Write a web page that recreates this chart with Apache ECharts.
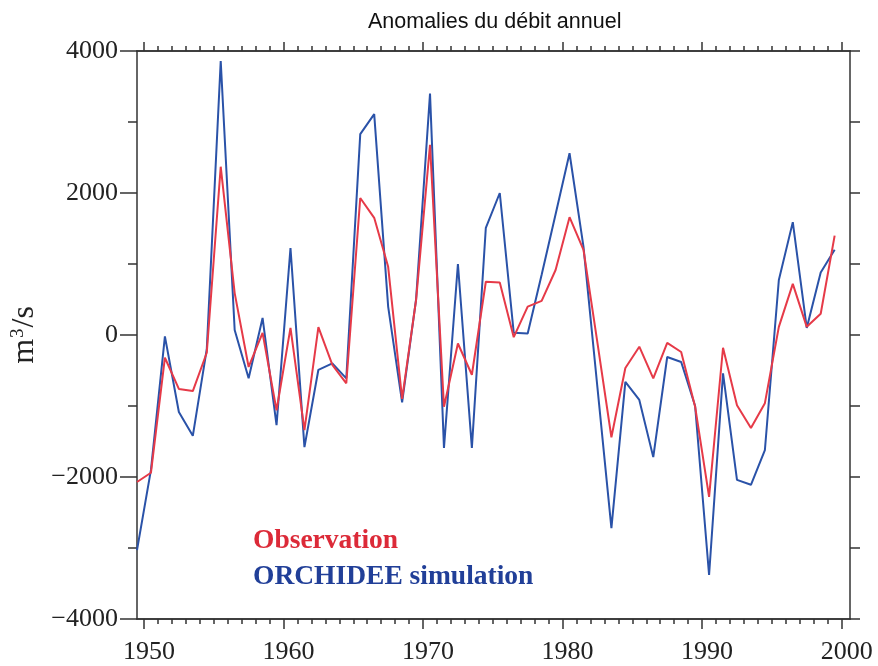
<!DOCTYPE html>
<html>
<head>
<meta charset="utf-8">
<script src="https://cdn.jsdelivr.net/npm/echarts@6/dist/echarts.min.js"></script>
<style>
  html, body { margin: 0; padding: 0; background: #fff; }
  #chart { width: 878px; height: 666px; }
</style>
</head>
<body>
<div id="chart"></div>
<script>
// annual flow anomalies, m3/s, one value per year (plotted mid-year)
var years = [1949, 1950, 1951, 1952, 1953, 1954, 1955, 1956, 1957, 1958,
             1959, 1960, 1961, 1962, 1963, 1964, 1965, 1966, 1967, 1968,
             1969, 1970, 1971, 1972, 1973, 1974, 1975, 1976, 1977, 1978,
             1979, 1980, 1981, 1982, 1983, 1984, 1985, 1986, 1987, 1988,
             1989, 1990, 1991, 1992, 1993, 1994, 1995, 1996, 1997, 1998, 1999];

var observation = [-2070, -1940, -320, -760, -790, -250, 2370, 590, -450, 30,
                   -1060, 100, -1340, 110, -420, -680, 1930, 1650, 960, -900,
                   490, 2680, -1010, -120, -560, 750, 740, -30, 400, 480,
                   915, 1660, 1200, -110, -1440, -465, -165, -610, -110, -240,
                   -1010, -2280, -180, -990, -1310, -960, 115, 720, 115, 300, 1400];

var simulation = [-3030, -1900, -20, -1085, -1420, -200, 3860, 70, -610, 240,
                  -1270, 1225, -1580, -490, -400, -610, 2830, 3110, 400, -950,
                  500, 3400, -1590, 1000, -1590, 1510, 2000, 30, 20, 850,
                  1700, 2560, 1240, -740, -2720, -660, -915, -1720, -310, -380,
                  -1000, -3380, -540, -2040, -2110, -1620, 775, 1590, 100, 880, 1200];

var decadeTicks = [1950, 1960, 1970, 1980, 1990, 2000];
var yearTicks = [];
for (var y = 1950; y <= 2000; y++) yearTicks.push(y);

var X_MIN = 1949.5, X_MAX = 2000.6;
var serif = 'Liberation Serif';

function pts(vals) {
    return years.map(function(yr, i) { return [yr + 0.5, vals[i]]; });
}

var axisLine = { show: true, onZero: false, lineStyle: { color: '#333', width: 1.5 } };

function xAxis(pos, ticks, len, labels) {
    return {
        type: 'value', position: pos, min: X_MIN, max: X_MAX,
        axisLine: axisLine,
        axisTick: { show: true, customValues: ticks, length: len,
                    lineStyle: { color: '#333', width: 1.5 } },
        axisLabel: labels ? { show: true, customValues: decadeTicks, margin: 20,
                              padding: [0, 0, 0, 10],
                              fontFamily: serif, fontSize: 26, color: '#222',
                              formatter: function(v) { return String(v); } }
                          : { show: false },
        splitLine: { show: false }
    };
}

var chart = echarts.init(document.getElementById('chart'));
chart.setOption({
    animation: false,
    backgroundColor: '#fff',
    title: {
        text: 'Anomalies du débit annuel',
        left: 363, top: 6,
        textStyle: { fontFamily: 'Liberation Sans', fontSize: 21.5,
                     fontWeight: 'normal', color: '#111' }
    },
    legend: {
        orient: 'vertical', left: 243, top: 522,
        itemWidth: 0, itemHeight: 0, itemGap: 8,
        icon: 'rect',
        textStyle: { fontFamily: serif, fontSize: 27.5, fontWeight: 'bold' },
        data: [
            { name: 'Observation', textStyle: { color: '#dc2a38' } },
            { name: 'ORCHIDEE simulation', textStyle: { color: '#213f98' } }
        ]
    },
    grid: { left: 137, right: 28, top: 51, bottom: 47 },
    xAxis: [
        xAxis('bottom', decadeTicks, 10, true),
        xAxis('bottom', yearTicks, 5, false),
        xAxis('top', decadeTicks, 9, false),
        xAxis('top', yearTicks, 5, false)
    ],
    yAxis: [
        {
            type: 'value', position: 'left', min: -4000, max: 4000, interval: 2000,
            name: '{b|m}{s|3}{b|/s}', nameLocation: 'middle', nameGap: 85, nameRotate: 90,
            nameTextStyle: {
                color: '#222',
                rich: {
                    b: { fontFamily: serif, fontSize: 32, color: '#222', verticalAlign: 'bottom' },
                    s: { fontFamily: serif, fontSize: 19, color: '#222', verticalAlign: 'top', padding: [0, 1, 12, 1] }
                }
            },
            axisLine: axisLine,
            axisTick: { show: true, length: 17, lineStyle: { color: '#333', width: 1.5 } },
            minorTick: { show: true, splitNumber: 2, length: 9,
                         lineStyle: { color: '#333', width: 1.5 } },
            axisLabel: { margin: 19, fontFamily: serif, fontSize: 26, color: '#222',
                         formatter: function(v) { return v < 0 ? '\u2212' + (-v) : String(v); } },
            splitLine: { show: false }, minorSplitLine: { show: false }
        },
        {
            type: 'value', position: 'right', min: -4000, max: 4000, interval: 1000,
            axisLine: axisLine,
            axisTick: { show: true, length: 10, lineStyle: { color: '#333', width: 1.5 } },
            axisLabel: { show: false },
            splitLine: { show: false }
        }
    ],
    series: [
        {
            name: 'Observation', type: 'line', data: pts(observation),
            symbol: 'none', z: 3,
            lineStyle: { color: '#e63a48', width: 2 },
            itemStyle: { color: '#e63a48' }
        },
        {
            name: 'ORCHIDEE simulation', type: 'line', data: pts(simulation),
            symbol: 'none', z: 2,
            lineStyle: { color: '#2a52a8', width: 2 },
            itemStyle: { color: '#2a52a8' }
        }
    ]
});
</script>
</body>
</html>
